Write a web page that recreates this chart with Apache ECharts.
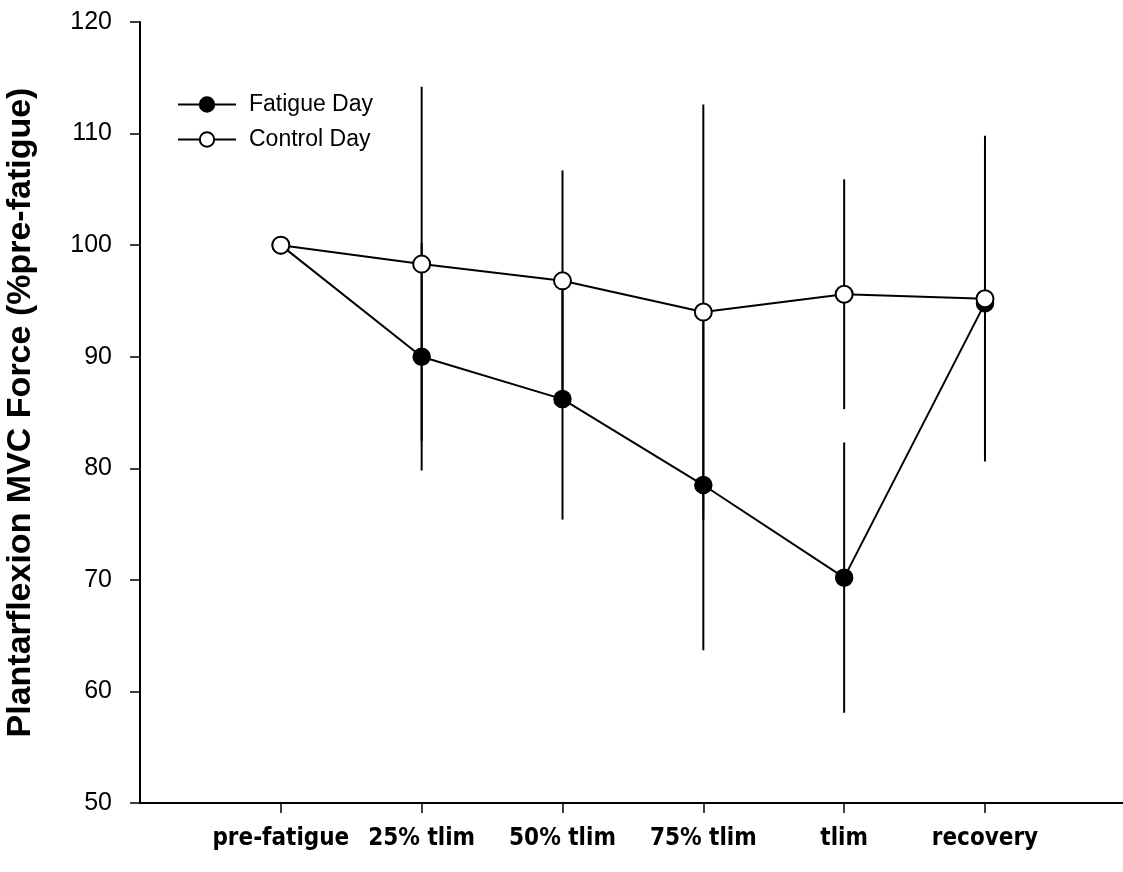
<!DOCTYPE html>
<html>
<head>
<meta charset="utf-8">
<script src="https://cdn.jsdelivr.net/npm/echarts@6/dist/echarts.min.js"></script>
<style>
  html, body { margin: 0; padding: 0; background: #ffffff; }
  #chart { width: 1123px; height: 872px; }
</style>
</head>
<body>
<div id="chart"></div>
<script>
// 时间点（x 轴类别）
const categories = ['pre-fatigue', '25% tlim', '50% tlim', '75% tlim', 'tlim', 'recovery']
// 均值 (%pre-fatigue)
const fatigueMean = [100, 90.0, 86.2, 78.5, 70.2, 94.8]
const controlMean = [100, 98.3, 96.8, 94.0, 95.6, 95.2]
// 误差（上下对称）
const fatigueErr = [0, 10.2, 10.8, 14.8, 12.1, 14.0]
const controlErr = [0, 15.9, 9.9, 18.6, 10.3, 14.6]
const yTicks = [50, 60, 70, 80, 90, 100, 110, 120]

const chart = echarts.init(document.getElementById('chart'))

// x 用数值轴，类别放在 1..6，两端各留一格
const toPoints = arr => arr.map((v, i) => [i + 1, v])
const toBars = (mean, err) => mean.map((v, i) => [i + 1, v - err[i], v + err[i]])

const errorSeries = (name, mean, err) => ({
  name: name + ' err',
  type: 'custom',
  silent: true,
  z: 1,
  data: toBars(mean, err),
  renderItem: function(params, api) {
    const lo = api.coord([api.value(0), api.value(1)])
    const hi = api.coord([api.value(0), api.value(2)])
    return {
      type: 'line',
      shape: { x1: lo[0], y1: lo[1], x2: hi[0], y2: hi[1] },
      style: { stroke: '#000', lineWidth: 2 }
    }
  }
})

const labelFont = "'Liberation Sans Narrow', 'Arial Narrow', 'DejaVu Sans Condensed', sans-serif"

const option = {
  backgroundColor: '#ffffff',
  animation: false,
  grid: { left: 140, top: 22, right: 0, height: 781, containLabel: false, outerBoundsMode: 'none' },
  legend: {
    left: 172,
    top: 88,
    orient: 'vertical',
    itemWidth: 58,
    itemHeight: 18,
    itemGap: 12,
    textStyle: { fontFamily: 'Liberation Sans, Arial, sans-serif', fontSize: 23, color: '#000', padding: [0, 0, 0, 8] },
    data: ['Fatigue Day', 'Control Day']
  },
  xAxis: {
    type: 'value',
    min: 0,
    max: 6.98,
    interval: 1,
    splitLine: { show: false },
    axisLine: { lineStyle: { color: '#000', width: 2 } },
    axisTick: {
      show: true,
      length: 10,
      customValues: [1, 2, 3, 4, 5, 6],
      lineStyle: { color: '#000', width: 1.5 }
    },
    axisLabel: {
      margin: 24,
      color: '#000',
      fontSize: 24,
      fontWeight: 'bold',
      fontFamily: labelFont,
      formatter: v => categories[v - 1] || ''
    }
  },
  yAxis: {
    type: 'value',
    min: 50,
    max: 120,
    interval: 10,
    splitLine: { show: false },
    axisLine: { show: true, lineStyle: { color: '#000', width: 2 } },
    axisTick: { show: true, length: 10, lineStyle: { color: '#000', width: 1.5 } },
    axisLabel: {
      margin: 28,
      color: '#000',
      fontSize: 25,
      fontFamily: 'Liberation Sans, Arial, sans-serif',
      formatter: v => (yTicks.indexOf(v) >= 0 ? String(v) : '')
    },
    name: 'Plantarflexion MVC Force (%pre-fatigue)',
    nameLocation: 'middle',
    nameRotate: 90,
    nameGap: 102,
    nameTextStyle: {
      color: '#000',
      fontSize: 34,
      fontWeight: 'bold',
      fontFamily: 'Liberation Sans, Arial, sans-serif'
    }
  },
  series: [
    errorSeries('Fatigue Day', fatigueMean, fatigueErr),
    errorSeries('Control Day', controlMean, controlErr),
    {
      name: 'Fatigue Day',
      type: 'line',
      z: 3,
      data: toPoints(fatigueMean),
      symbol: 'circle',
      symbolSize: 17,
      lineStyle: { color: '#000', width: 2 },
      itemStyle: { color: '#000', borderColor: '#000', borderWidth: 1.5 }
    },
    {
      name: 'Control Day',
      type: 'line',
      z: 4,
      data: toPoints(controlMean),
      symbol: 'circle',
      symbolSize: 17,
      lineStyle: { color: '#000', width: 2 },
      itemStyle: { color: '#fff', borderColor: '#000', borderWidth: 2 }
    }
  ]
}

chart.setOption(option)
</script>
</body>
</html>
